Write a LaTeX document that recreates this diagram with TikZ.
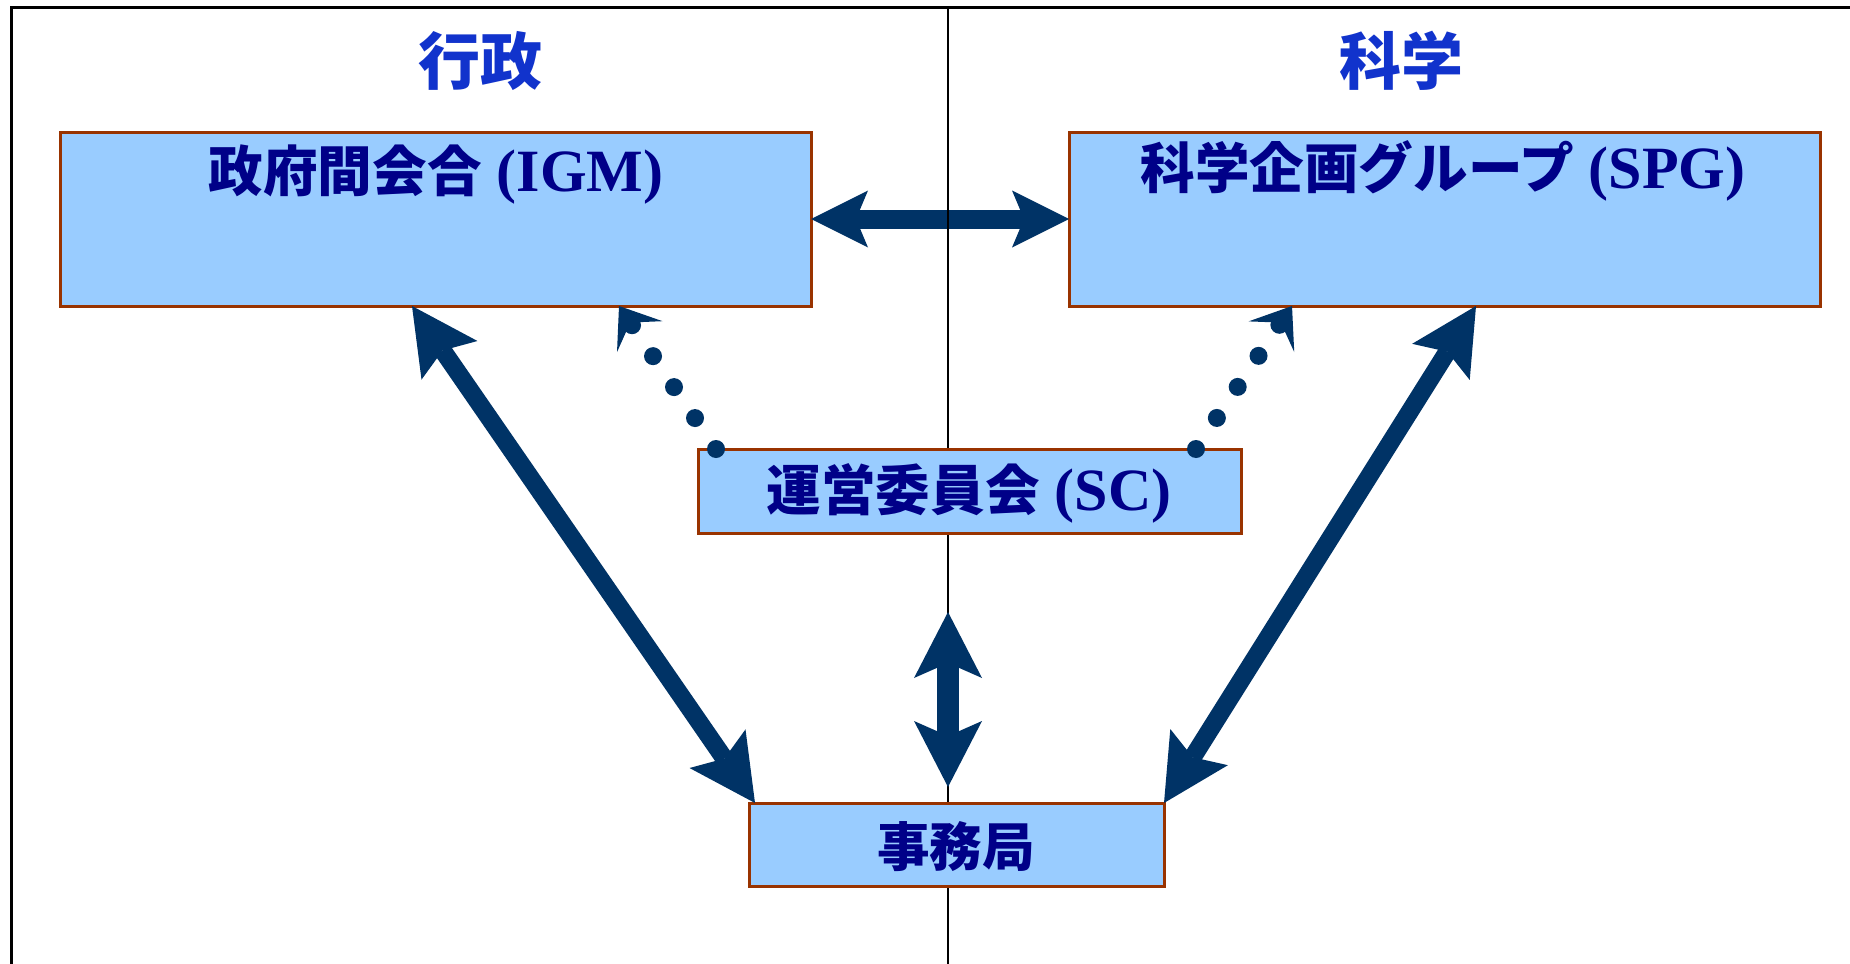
\documentclass[tikz,border=0pt]{standalone}
\usepackage{fontspec}
\setmainfont{Liberation Serif}
\newfontfamily\cjk{Noto Sans CJK JP}
\usetikzlibrary{arrows.meta,calc}
\definecolor{boxfill}{HTML}{99CCFF}
\definecolor{boxline}{HTML}{993300}
\definecolor{arrowc}{HTML}{003366}
\definecolor{boxtext}{HTML}{000088}
\definecolor{titletext}{HTML}{1133CC}
\newcommand{\jp}[1]{{\fontsize{27.3pt}{30pt}\selectfont\cjk #1}}
\tikzset{
  boxst/.style={draw=boxline, fill=boxfill, line width=1.5pt, outer sep=0pt, inner sep=0pt},
  lbl/.style={inner sep=0pt, text=boxtext, font=\fontsize{30pt}{32pt}\selectfont\bfseries},
  ttl/.style={inner sep=0pt, text=titletext, font=\fontsize{31pt}{33pt}\selectfont\cjk\bfseries},
  frameline/.style={draw=black, line width=1.25pt},
  divider/.style={draw=black, line width=1pt},
  bigarrow/.style={draw=arrowc, line width=9pt,
    {Stealth[length=33pt,width=34pt,inset=6pt,line width=0pt]}-{Stealth[length=33pt,width=34pt,inset=6pt,line width=0pt]}},
  harrow/.style={draw=arrowc, line width=9.5pt,
    {Stealth[length=28.5pt,width=28.5pt,inset=6pt,line width=0pt]}-{Stealth[length=28.5pt,width=28.5pt,inset=6pt,line width=0pt]}},
  varrow/.style={draw=arrowc, line width=11pt,
    {Stealth[length=33pt,width=34pt,inset=7.5pt,line width=0pt]}-{Stealth[length=33pt,width=34pt,inset=7.5pt,line width=0pt]}},
  dotconn/.style={draw=arrowc, line width=9pt, line cap=round, dash pattern=on 0pt off 18.7pt,
    -{Stealth[length=18.5pt,width=27.5pt,inset=8.5pt,line width=0pt]}}
}
\begin{document}
\begin{tikzpicture}[x=0.5pt,y=-0.5pt]
\useasboundingbox (0,0) rectangle (1850,963);
\fill[white] (0,0) rectangle (1850,963);
% frame
\draw[frameline] (1880,7.3) -| (11.7,990);
% boxes
\node[boxst, minimum width=375.5pt, minimum height=87pt] (igm) at (435.5,219) {};
\node[boxst, minimum width=375.5pt, minimum height=87pt] (spg) at (1444.5,219) {};
% horizontal arrow (under divider)
\draw[harrow] (igm.east) -- (spg.west);
% divider
\draw[divider] (948,7.3) -- (948,990);
\node[boxst, minimum width=271.5pt, minimum height=42pt] (sc) at (969.5,491) {};
\node[boxst, minimum width=207.5pt, minimum height=41.5pt] (jim) at (956.5,844.5) {};
% titles
\node[ttl] (t1) at (480,61) {行政};
\node[ttl] (t2) at (1401,61) {科学};
% labels
\node[lbl] (igmlbl) at (436,175) {\jp{政府間会合} (IGM)};
\node[lbl] (spglbl) at (1443,171) {\jp{科学企画グループ} (SPG)};
\node[lbl] (sclbl) at (969,493) {\jp{運営委員会} (SC)};
\node[lbl] (jimlbl) at (956,847) {{\fontsize{26.3pt}{30pt}\selectfont\cjk 事務局}};
% connectors
\draw[bigarrow] ($(igm.south west)+(352,0)$) -- ($(jim.north west)+(6,0)$);
\draw[bigarrow] ($(spg.south west)+(407,0)$) -- (jim.north east);
\coordinate (vtop) at (948,612);
\coordinate (vbot) at (948,787);
\draw[varrow] (vtop) -- (vbot);
\draw[dotconn] ($(sc.north west)+(18,0)$) -- ($(igm.south west)+(559,0)$);
\draw[dotconn] ($(sc.north east)+(-45,0)$) -- ($(spg.south west)+(223,0)$);
\end{tikzpicture}
\end{document}
